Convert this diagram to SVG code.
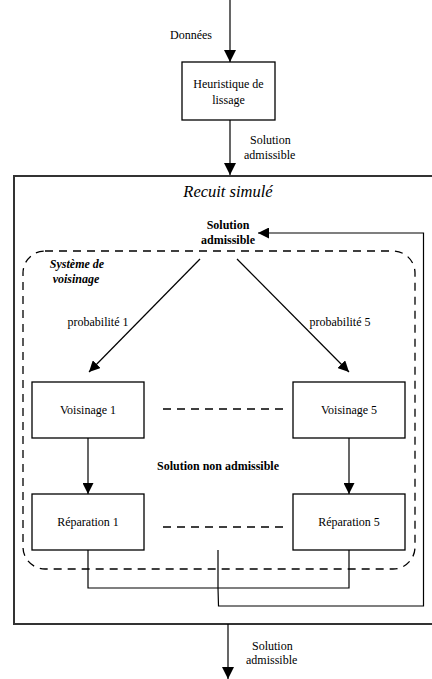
<svg xmlns="http://www.w3.org/2000/svg" width="432" height="679" viewBox="0 0 432 679">
<defs>
<marker id="ah" viewBox="0 0 10 10" refX="10" refY="5" markerWidth="11" markerHeight="11" markerUnits="userSpaceOnUse" orient="auto">
<path d="M0,0 L10,5 L0,10 z" fill="#000"/>
</marker>
<marker id="ahb" viewBox="0 0 10 10" refX="10" refY="5" markerWidth="12" markerHeight="12" markerUnits="userSpaceOnUse" orient="auto">
<path d="M0,0 L10,5 L0,10 z" fill="#000"/>
</marker>
</defs>
<style>
text{font-family:'Liberation Serif','DejaVu Serif','Times New Roman',serif;fill:#000;}
.t{font-size:12px;}
.b{font-size:12px;font-weight:bold;}
.box{fill:#fff;stroke:#000;stroke-width:1.3;}
.ln{fill:none;stroke:#000;stroke-width:1.2;}
.dash{fill:none;stroke:#000;stroke-width:1.3;stroke-dasharray:8,6;}
</style>
<rect width="432" height="679" fill="#fff"/>
<g id="recuit">
<rect x="14" y="176" width="430" height="448" fill="none" stroke="#333" stroke-width="2"/>
<text x="228" y="197" text-anchor="middle" font-size="16.5" font-style="italic">Recuit simulé</text>
</g>
<g id="systeme">
<rect x="23" y="251" width="392" height="318" rx="22" ry="22" class="dash"/>
<text x="77" y="268" text-anchor="middle" class="b" font-style="italic">Système de</text>
<text x="76" y="283" text-anchor="middle" class="b" font-style="italic">voisinage</text>
</g>
<g id="connectors">
<line x1="230" y1="0" x2="230" y2="62" class="ln" stroke-width="1.5" marker-end="url(#ahb)"/>
<line x1="230" y1="120" x2="230" y2="175" class="ln" stroke-width="1.5" marker-end="url(#ahb)"/>
<line x1="228" y1="624" x2="228" y2="679" class="ln" stroke-width="1.5" marker-end="url(#ahb)"/>
<line x1="200" y1="259" x2="89" y2="372" class="ln" marker-end="url(#ah)"/>
<line x1="237" y1="259" x2="349" y2="372" class="ln" marker-end="url(#ah)"/>
<line x1="88" y1="438" x2="88" y2="494" class="ln" marker-end="url(#ah)"/>
<line x1="349" y1="438" x2="349" y2="494" class="ln" marker-end="url(#ah)"/>
<line x1="163" y1="409" x2="283" y2="409" class="dash"/>
<line x1="163" y1="527" x2="283" y2="527" class="dash"/>
<polyline points="88,550 88,588 349,588 349,550" class="ln"/>
<polyline points="218,550 218,588 218.5,606 423.5,606 423.5,233 258,233" class="ln" marker-end="url(#ah)"/>
<text x="191" y="39" text-anchor="middle" class="t">Données</text>
<text x="250" y="144" class="t">Solution</text>
<text x="244" y="159" class="t">admissible</text>
<text x="98" y="326" text-anchor="middle" class="t">probabilité 1</text>
<text x="340" y="326" text-anchor="middle" class="t">probabilité 5</text>
<text x="218" y="470" text-anchor="middle" class="b">Solution  non admissible</text>
<text x="252" y="650" class="t">Solution</text>
<text x="246" y="664" class="t">admissible</text>
</g>
<g id="heuristique">
<rect x="182" y="62" width="93" height="58" class="box"/>
<text x="228.5" y="88" text-anchor="middle" class="t">Heuristique de</text>
<text x="228.5" y="104" text-anchor="middle" class="t">lissage</text>
</g>
<g id="solution">
<text x="228" y="229" text-anchor="middle" class="b">Solution</text>
<text x="228" y="244" text-anchor="middle" class="b">admissible</text>
</g>
<g id="voisinage1">
<rect x="32" y="382" width="112" height="56" class="box"/>
<text x="88" y="414" text-anchor="middle" class="t">Voisinage 1</text>
</g>
<g id="voisinage5">
<rect x="293" y="382" width="112" height="56" class="box"/>
<text x="349" y="414" text-anchor="middle" class="t">Voisinage 5</text>
</g>
<g id="reparation1">
<rect x="32" y="494" width="112" height="56" class="box"/>
<text x="88" y="526" text-anchor="middle" class="t">Réparation 1</text>
</g>
<g id="reparation5">
<rect x="293" y="494" width="112" height="56" class="box"/>
<text x="349" y="526" text-anchor="middle" class="t">Réparation 5</text>
</g>
</svg>
